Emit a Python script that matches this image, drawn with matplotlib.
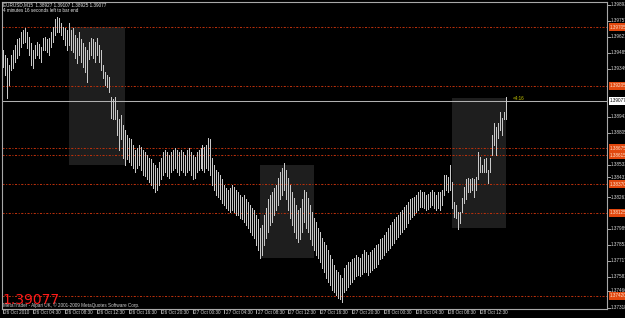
import matplotlib
matplotlib.use("Agg")
import matplotlib.pyplot as plt
from matplotlib.transforms import blended_transform_factory
from matplotlib.patches import Rectangle

# ---------------- data ----------------
symbol = "EURUSD,M15"
last_ohlc = [1.38927, 1.39107, 1.38925, 1.39077]
timer_text = "4 minutes 16 seconds left to bar end"
countdown = "<4:16"
copyright_text = "MetaTrader - Alpari UK, \u00a9 2001-2009 MetaQuotes Software Corp."

highs = [
    1.3951, 1.3947, 1.3944, 1.3938, 1.3947, 1.3951, 1.3955, 1.3960, 1.3961, 1.3966,
    1.3968, 1.3970, 1.3966, 1.3962, 1.3957, 1.3951, 1.3955, 1.3958, 1.3956, 1.3954,
    1.3961, 1.3962, 1.3960, 1.3961, 1.3966, 1.3971, 1.3977, 1.3979, 1.3978, 1.3974,
    1.3971, 1.3970, 1.3968, 1.3974, 1.3968, 1.3970, 1.3964, 1.3961, 1.3966, 1.3960,
    1.3957, 1.3954, 1.3951, 1.3958, 1.3961, 1.3960, 1.3958, 1.3961, 1.3955, 1.3951,
    1.3938, 1.3932, 1.3930, 1.3928, 1.3911, 1.3909, 1.3911, 1.3900, 1.3892, 1.3896,
    1.3887, 1.3883, 1.3879, 1.3876, 1.3875, 1.3870, 1.3866, 1.3868, 1.3870, 1.3869,
    1.3866, 1.3864, 1.3862, 1.3859, 1.3858, 1.3855, 1.3853, 1.3851, 1.3856, 1.3859,
    1.3864, 1.3866, 1.3864, 1.3862, 1.3864, 1.3866, 1.3868, 1.3866, 1.3864, 1.3866,
    1.3864, 1.3862, 1.3866, 1.3868, 1.3864, 1.3862, 1.3860, 1.3864, 1.3866, 1.3868,
    1.3870, 1.3869, 1.3870, 1.3876, 1.3875, 1.3859, 1.3853, 1.3849, 1.3847, 1.3845,
    1.3841, 1.3836, 1.3834, 1.3832, 1.3834, 1.3836, 1.3835, 1.3832, 1.3830, 1.3828,
    1.3826, 1.3828, 1.3824, 1.3822, 1.3819, 1.3817, 1.3815, 1.3811, 1.3807, 1.3800,
    1.3802, 1.3811, 1.3817, 1.3824, 1.3828, 1.3830, 1.3834, 1.3836, 1.3842, 1.3847,
    1.3851, 1.3855, 1.3849, 1.3842, 1.3836, 1.3830, 1.3825, 1.3819, 1.3815, 1.3817,
    1.3824, 1.3832, 1.3830, 1.3825, 1.3819, 1.3813, 1.3808, 1.3805, 1.3800, 1.3796,
    1.3791, 1.3788, 1.3785, 1.3781, 1.3777, 1.3773, 1.3768, 1.3764, 1.3762, 1.3760,
    1.3757, 1.3766, 1.3768, 1.3771, 1.3771, 1.3773, 1.3774, 1.3777, 1.3775, 1.3774,
    1.3778, 1.3781, 1.3779, 1.3777, 1.3779, 1.3781, 1.3783, 1.3785, 1.3786, 1.3790,
    1.3791, 1.3794, 1.3796, 1.3800, 1.3802, 1.3805, 1.3807, 1.3809, 1.3811, 1.3813,
    1.3815, 1.3818, 1.3819, 1.3822, 1.3824, 1.3825, 1.3826, 1.3828, 1.3830, 1.3832,
    1.3830, 1.3830, 1.3828, 1.3829, 1.3830, 1.3832, 1.3830, 1.3828, 1.3830, 1.3830,
    1.3832, 1.3845, 1.3845, 1.3843, 1.3853, 1.3839, 1.3822, 1.3819, 1.3813, 1.3813,
    1.3825, 1.3835, 1.3841, 1.3842, 1.3841, 1.3842, 1.3841, 1.3843, 1.3864, 1.3860,
    1.3853, 1.3858, 1.3859, 1.3849, 1.3859, 1.3879, 1.3889, 1.3886, 1.3889, 1.3898,
    1.3893, 1.3898, 1.39107,
]

lows = [
    1.3937, 1.3930, 1.3910, 1.3921, 1.3934, 1.3936, 1.3941, 1.3944, 1.3947, 1.3954,
    1.3957, 1.3958, 1.3953, 1.3947, 1.3938, 1.3936, 1.3944, 1.3947, 1.3944, 1.3941,
    1.3951, 1.3951, 1.3949, 1.3947, 1.3954, 1.3958, 1.3964, 1.3966, 1.3966, 1.3964,
    1.3960, 1.3955, 1.3951, 1.3955, 1.3951, 1.3949, 1.3944, 1.3940, 1.3947, 1.3941,
    1.3937, 1.3932, 1.3924, 1.3943, 1.3947, 1.3944, 1.3941, 1.3947, 1.3941, 1.3934,
    1.3927, 1.3921, 1.3920, 1.3915, 1.3893, 1.3892, 1.3892, 1.3879, 1.3866, 1.3875,
    1.3859, 1.3853, 1.3858, 1.3856, 1.3853, 1.3851, 1.3847, 1.3851, 1.3853, 1.3849,
    1.3845, 1.3844, 1.3841, 1.3839, 1.3836, 1.3834, 1.3830, 1.3832, 1.3836, 1.3841,
    1.3845, 1.3847, 1.3844, 1.3842, 1.3847, 1.3849, 1.3851, 1.3847, 1.3845, 1.3849,
    1.3847, 1.3845, 1.3847, 1.3849, 1.3845, 1.3841, 1.3842, 1.3847, 1.3849, 1.3851,
    1.3849, 1.3847, 1.3851, 1.3849, 1.3845, 1.3836, 1.3832, 1.3828, 1.3826, 1.3824,
    1.3821, 1.3819, 1.3817, 1.3815, 1.3813, 1.3815, 1.3813, 1.3811, 1.3811, 1.3808,
    1.3807, 1.3805, 1.3802, 1.3800, 1.3796, 1.3794, 1.3791, 1.3785, 1.3781, 1.3774,
    1.3777, 1.3785, 1.3791, 1.3796, 1.3802, 1.3805, 1.3811, 1.3815, 1.3819, 1.3824,
    1.3828, 1.3832, 1.3824, 1.3815, 1.3808, 1.3802, 1.3796, 1.3791, 1.3788, 1.3790,
    1.3796, 1.3805, 1.3800, 1.3796, 1.3790, 1.3785, 1.3781, 1.3777, 1.3774, 1.3771,
    1.3766, 1.3762, 1.3757, 1.3754, 1.3751, 1.3747, 1.3745, 1.3743, 1.3740, 1.3739,
    1.3737, 1.3745, 1.3747, 1.3750, 1.3752, 1.3754, 1.3756, 1.3759, 1.3760, 1.3759,
    1.3761, 1.3762, 1.3762, 1.3760, 1.3762, 1.3764, 1.3766, 1.3767, 1.3769, 1.3773,
    1.3774, 1.3777, 1.3779, 1.3781, 1.3783, 1.3785, 1.3787, 1.3790, 1.3792, 1.3795,
    1.3796, 1.3799, 1.3801, 1.3804, 1.3807, 1.3809, 1.3811, 1.3813, 1.3815, 1.3818,
    1.3818, 1.3817, 1.3815, 1.3816, 1.3818, 1.3819, 1.3817, 1.3815, 1.3817, 1.3815,
    1.3819, 1.3828, 1.3832, 1.3830, 1.3832, 1.3817, 1.3809, 1.3808, 1.3799, 1.3804,
    1.3813, 1.3821, 1.3824, 1.3830, 1.3830, 1.3832, 1.3826, 1.3832, 1.3841, 1.3847,
    1.3847, 1.3847, 1.3847, 1.3838, 1.3847, 1.3862, 1.3870, 1.3862, 1.3876, 1.3883,
    1.3879, 1.3892, 1.38925,
]

time_labels = ["26 Oct 2010", "26 Oct 04:30", "26 Oct 08:30", "26 Oct 12:30",
               "26 Oct 16:30", "26 Oct 20:30", "27 Oct 00:30", "27 Oct 04:30",
               "27 Oct 08:30", "27 Oct 12:30", "27 Oct 16:30", "27 Oct 20:30",
               "28 Oct 00:30", "28 Oct 04:30", "28 Oct 08:30", "28 Oct 12:30"]
time_label_bars = [0, 15, 31, 47, 63, 79, 95, 111, 127, 143, 159, 175, 191, 207, 223, 239]

price_ticks = [1.39893, 1.39757, 1.39621, 1.39485, 1.39349, 1.38941, 1.38805,
               1.38533, 1.38431, 1.38261, 1.37989, 1.37853, 1.37717, 1.37581,
               1.37466, 1.37318]

red_levels = [1.39705, 1.39205, 1.38675, 1.38615, 1.38370, 1.38125, 1.37420]

rect_start_bars = [33, 129, 225]
rect_end_bars = [61, 156, 252]
rect_tops = [1.39706, 1.38533, 1.39103]
rect_bottoms = [1.38533, 1.37743, 1.37998]

# ---------------- figure ----------------
W, H = 625, 318
fig = plt.figure(figsize=(W / 100, H / 100), dpi=100, facecolor="black")
ax = fig.add_axes([2 / W, 9 / H, 605 / W, 307 / H])
ax.set_facecolor("black")
ax.set_xlim(-0.5, 302.76)
ax.set_ylim(1.37309, 1.399185)
ax.set_xticks([])
ax.set_yticks([])
for s in ax.spines.values():
    s.set_color("#a8a8a8")
    s.set_linewidth(0.8)

SMALL = ["Liberation Sans Narrow", "Liberation Sans", "DejaVu Sans"]
FS = 3.35
grey = "#d8d8d8"

# rectangles
for x0, x1, t, b in zip(rect_start_bars, rect_end_bars, rect_tops, rect_bottoms):
    ax.add_patch(Rectangle((x0, b), x1 - x0, t - b, facecolor="#1e1e1e",
                           edgecolor="none", zorder=1))

# red horizontal levels
for lv in red_levels:
    ax.axhline(lv, color="#b8300c", lw=0.75, ls=(0, (2, 1.5, 1, 1.5)), zorder=2)

# bid line
bid = last_ohlc[3]
ax.axhline(bid, color="#b0b0b0", lw=0.75, zorder=2)

# price bars
xs = list(range(len(highs)))
ax.vlines(xs, lows, highs, colors="#c8c8c8", lw=0.55, antialiased=False, zorder=3)

# countdown text
ax.text(255.3, 1.3910, countdown, color="#c8c800", fontsize=FS, family=SMALL,
        ha="left", va="center", zorder=4)

# right price scale
tr_y = blended_transform_factory(ax.transAxes, ax.transData)
dx = 1 / 605
for v in price_ticks:
    ax.plot([1.0, 1.0 + 3 * dx], [v, v], color="#a8a8a8", lw=0.7,
            transform=tr_y, clip_on=False)
    ax.text(1.0 + 4 * dx, v, f"{v:.5f}", transform=tr_y, color=grey, fontsize=FS,
            family=SMALL, ha="left", va="center", clip_on=False)

for lv in red_levels:
    ax.text(1.0 + 3 * dx, lv, f"{lv:.5f}", transform=tr_y, color="#ffe2cc",
            fontsize=FS, family=SMALL, ha="left", va="center", clip_on=False,
            zorder=6,
            bbox=dict(boxstyle="square,pad=0.3", fc="#e2480e", ec="none"))

ax.text(1.0 + 3 * dx, bid, f"{bid:.5f}", transform=tr_y, color="black",
        fontsize=FS, family=SMALL, ha="left", va="center", clip_on=False, zorder=6,
        bbox=dict(boxstyle="square,pad=0.3", fc="white", ec="none"))

# bottom time scale
tr_x = blended_transform_factory(ax.transData, ax.transAxes)
dy = 1 / 307
for b, lab in zip(time_label_bars, time_labels):
    ax.plot([b, b], [0, -4 * dy], color="#a8a8a8", lw=0.7, transform=tr_x,
            clip_on=False)
    ax.text(b + 0.6, -1.5 * dy, lab, transform=tr_x, color=grey, fontsize=FS,
            family=SMALL, ha="left", va="top", clip_on=False)

# header texts
def fx(px):
    return px / W

def fy(py):
    return 1 - py / H

header = symbol + "  " + " ".join(f"{v:.5f}" for v in last_ohlc)
fig.text(fx(3), fy(2.5), header, color="#e8e8e8", fontsize=FS, family=SMALL,
         ha="left", va="top")
fig.text(fx(3), fy(8.5), timer_text, color="#e8e8e8", fontsize=FS, family=SMALL,
         ha="left", va="top")

# big price at bottom left
fig.text(fx(2), fy(304), f"{bid:.5f}", color="#ff1a1a", fontsize=10,
         family="DejaVu Sans", ha="left", va="baseline")
fig.text(fx(3), fy(302.5), copyright_text, color="#d0d0d0", fontsize=FS,
         family=SMALL, ha="left", va="top")

fig.savefig("out.png", dpi=100, facecolor="black")
